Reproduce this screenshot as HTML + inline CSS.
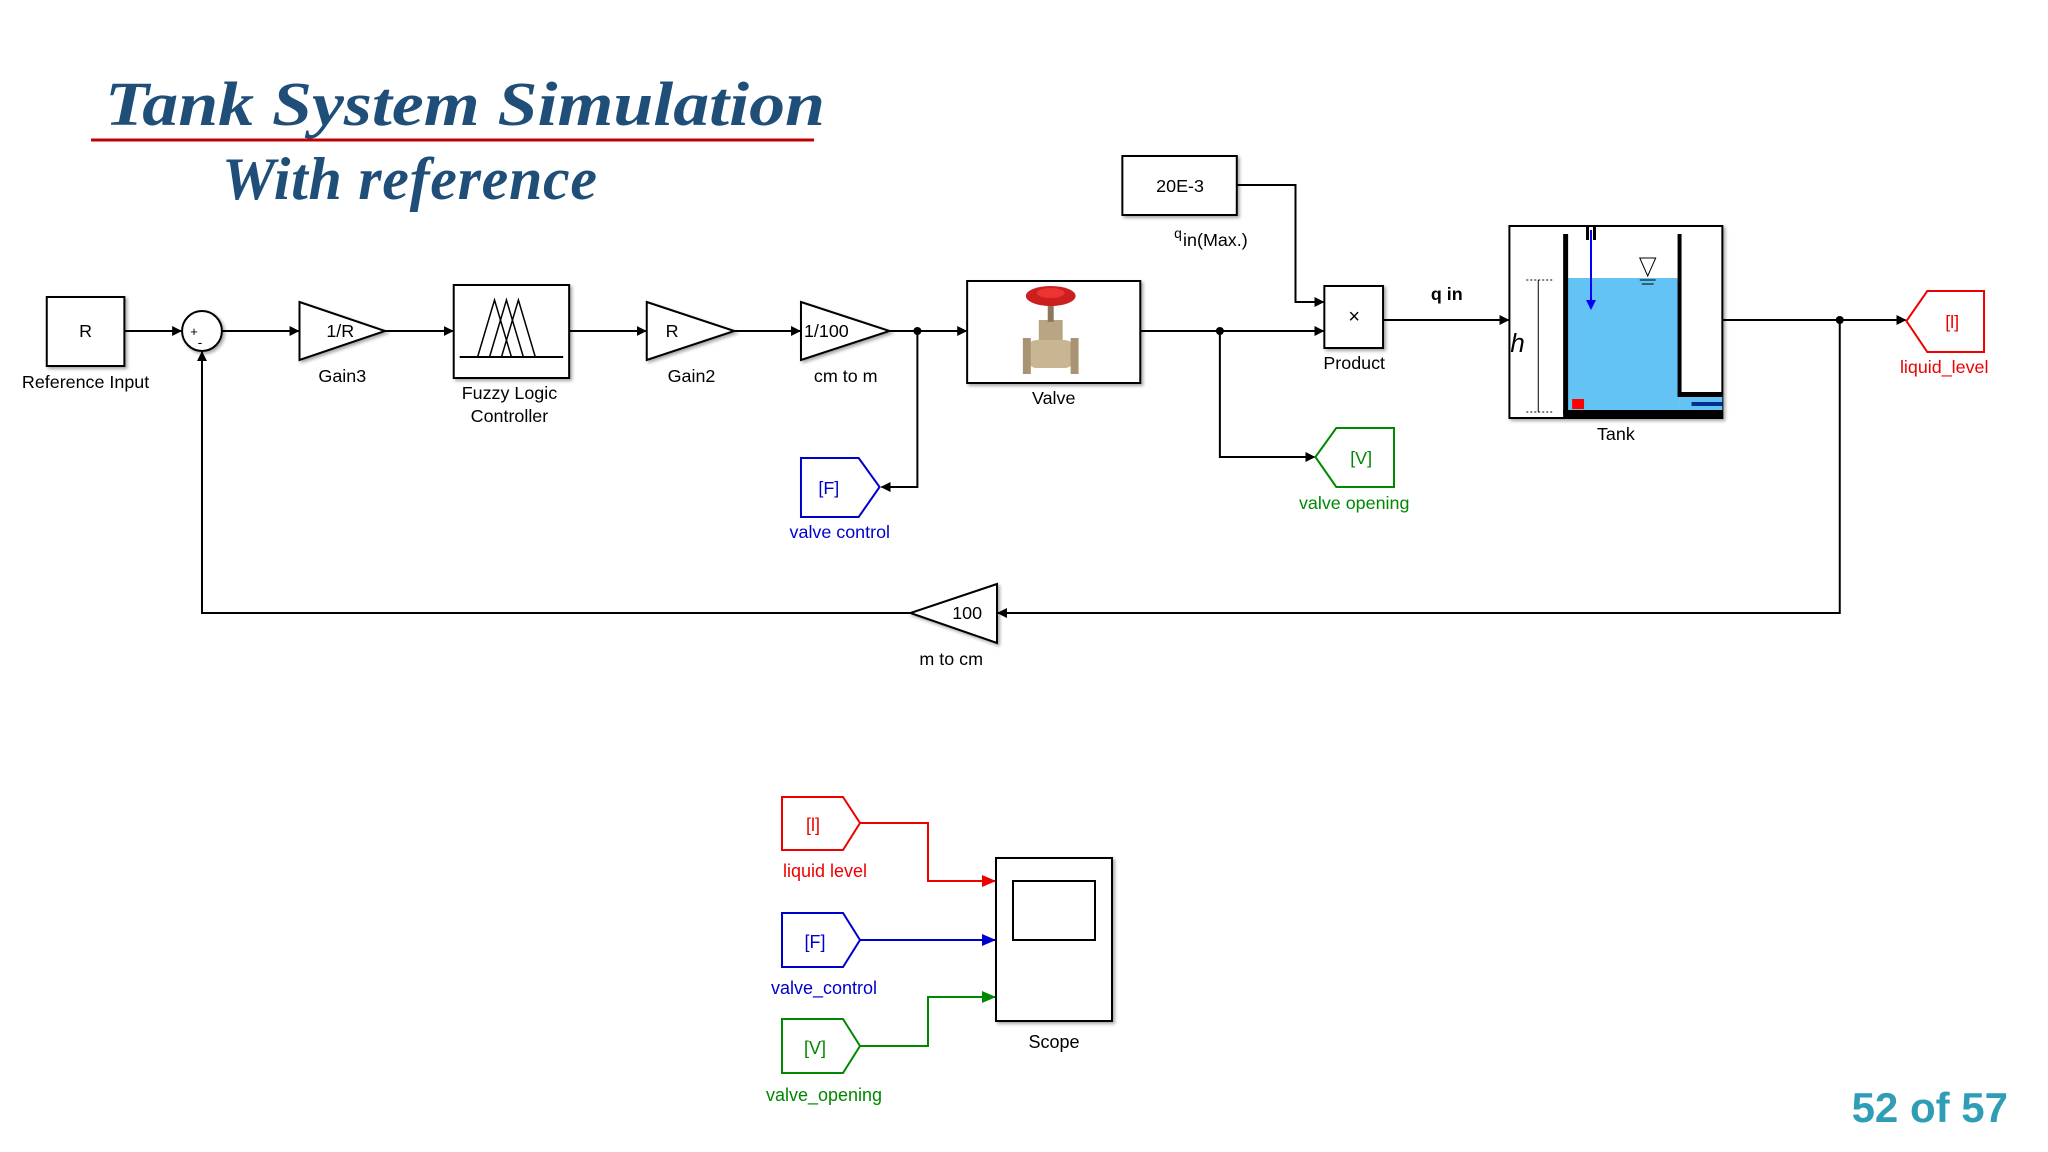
<!DOCTYPE html>
<html><head><meta charset="utf-8"><style>
html,body{margin:0;padding:0;background:#fff;width:2048px;height:1152px;overflow:hidden}
svg{display:block}
text{font-family:"Liberation Sans",Arial,sans-serif}
.t{font-family:"Liberation Serif",serif;font-weight:bold;font-style:italic;fill:#1f4e79}
</style></head><body>
<svg width="2048" height="1152" viewBox="0 0 2048 1152" xmlns="http://www.w3.org/2000/svg">
<defs>
<marker id="a" markerWidth="10" markerHeight="10" refX="9" refY="5" orient="auto" markerUnits="userSpaceOnUse"><path d="M0,0 L10,5 L0,10z" fill="#000"/></marker>
<marker id="ar" markerWidth="14" markerHeight="12" refX="13" refY="6" orient="auto" markerUnits="userSpaceOnUse"><path d="M0,0 L14,6 L0,12z" fill="#e00"/></marker>
<marker id="ab" markerWidth="14" markerHeight="12" refX="13" refY="6" orient="auto" markerUnits="userSpaceOnUse"><path d="M0,0 L14,6 L0,12z" fill="#00c"/></marker>
<marker id="ag" markerWidth="14" markerHeight="12" refX="13" refY="6" orient="auto" markerUnits="userSpaceOnUse"><path d="M0,0 L14,6 L0,12z" fill="#080"/></marker>
<filter id="sh"><feDropShadow dx="2" dy="2" stdDeviation="1.5" flood-opacity="0.35"/></filter>
</defs>

<!-- Title -->
<text class="t" x="105" y="125" font-size="62" textLength="720" lengthAdjust="spacingAndGlyphs">Tank System Simulation</text>
<line x1="91" y1="140" x2="814" y2="140" stroke="#c00000" stroke-width="3"/>
<text class="t" x="222" y="199" font-size="60" textLength="375">With reference</text>

<g transform="matrix(0.995,0,0,1,0,0)">
<g stroke="#000" stroke-width="2" fill="none">
<line x1="125" y1="331" x2="182" y2="331" marker-end="url(#a)"/>
<line x1="223" y1="331" x2="300" y2="331" marker-end="url(#a)"/>
<line x1="387" y1="331" x2="455" y2="331" marker-end="url(#a)"/>
<line x1="572" y1="331" x2="649" y2="331" marker-end="url(#a)"/>
<line x1="738" y1="331" x2="804" y2="331" marker-end="url(#a)"/>
<line x1="894" y1="331" x2="971" y2="331" marker-end="url(#a)"/>
<polyline points="922,331 922,487 886,487" marker-end="url(#a)"/>
<line x1="1146" y1="331" x2="1330" y2="331" marker-end="url(#a)"/>
<polyline points="1226,331 1226,457 1321,457" marker-end="url(#a)"/>
<polyline points="1243,185 1302,185 1302,302 1330,302" marker-end="url(#a)"/>
<line x1="1390" y1="320" x2="1516" y2="320" marker-end="url(#a)"/>
<line x1="1731" y1="320" x2="1915" y2="320" marker-end="url(#a)"/>
<polyline points="1849,320 1849,613 1003,613" marker-end="url(#a)"/>
<polyline points="915,613 203,613 203,352" marker-end="url(#a)"/>
</g>
<circle cx="922" cy="331" r="4"/><circle cx="1226" cy="331" r="4"/><circle cx="1849" cy="320" r="4"/>

<g filter="url(#sh)" stroke="#000" stroke-width="2" fill="#fff">
<rect x="47" y="297" width="78" height="69"/>
<circle cx="203" cy="331" r="20"/>
<polygon points="301,302 387,331 301,360"/>
<rect x="456" y="285" width="116" height="93"/>
<polygon points="650,302 738,331 650,360"/>
<polygon points="805,302 894,331 805,360"/>
<rect x="972" y="281" width="174" height="102"/>
<rect x="1128" y="156" width="115" height="59"/>
<rect x="1331" y="286" width="59" height="62"/>
<rect x="1517" y="226" width="214" height="192"/>
<polygon points="1002,584 915,613 1002,643"/>
</g>
<polygon points="805,458 863,458 884,487 863,517 805,517" fill="#fff" stroke="#00c" stroke-width="2"/>
<polygon points="1401,428 1343,428 1322,457 1343,487 1401,487" fill="#fff" stroke="#080" stroke-width="2"/>
<polygon points="1994,291 1937,291 1916,321 1937,352 1994,352" fill="#fff" stroke="#e00" stroke-width="2"/>

<g stroke="#000" stroke-width="1.5" fill="none">
<line x1="462" y1="357" x2="566" y2="357" stroke-width="2"/>
<polyline points="480,357 497,300 514,357"/><polyline points="492,357 509,300 526,357"/><polyline points="504,357 521,300 538,357"/>
</g>
<g>
<rect x="1044" y="320" width="24" height="40" fill="#b9a583"/>
<rect x="1032" y="340" width="48" height="28" rx="10" fill="#c8b592"/>
<rect x="1028" y="338" width="8" height="36" fill="#a89472"/><rect x="1076" y="338" width="8" height="36" fill="#a89472"/>
<rect x="1053" y="298" width="6" height="24" fill="#8a7a5a"/>
<ellipse cx="1056" cy="296" rx="25" ry="10" fill="#cc1f1f"/>
<ellipse cx="1056" cy="293" rx="14" ry="5" fill="#e33"/>
</g>
<g>
<rect x="1575" y="278" width="113" height="133" fill="#63c3f5"/>
<rect x="1688" y="394" width="43" height="17" fill="#63c3f5"/>
<rect x="1571" y="234" width="5" height="180" fill="#000"/>
<rect x="1571" y="410" width="160" height="8" fill="#000"/>
<rect x="1686" y="234" width="4" height="162" fill="#000"/>
<rect x="1686" y="392" width="45" height="5" fill="#000"/>
<rect x="1700" y="402" width="31" height="4" fill="#00308f"/>
<rect x="1594" y="227" width="3" height="13" fill="#000"/><rect x="1601" y="227" width="3" height="13" fill="#000"/>
<line x1="1599" y1="230" x2="1599" y2="305" stroke="#00f" stroke-width="2"/>
<path d="M1594,300 L1599,310 L1604,300z" fill="#00f"/>
<rect x="1580" y="399" width="12" height="10" fill="#f00"/>
<path d="M1648,258 L1664,258 L1656,276z" fill="none" stroke="#000"/>
<line x1="1648" y1="280" x2="1664" y2="280" stroke="#000"/><line x1="1650" y1="284" x2="1662" y2="284" stroke="#000"/>
<line x1="1546" y1="280" x2="1546" y2="412" stroke="#000"/>
<line x1="1534" y1="280" x2="1560" y2="280" stroke="#000" stroke-dasharray="2,2"/>
<line x1="1534" y1="412" x2="1560" y2="412" stroke="#000" stroke-dasharray="2,2"/>
<text x="1518" y="352" font-size="26" font-style="italic" font-family="Liberation Serif,serif">h</text>
</g>
<g font-size="18" text-anchor="middle" fill="#000">
<text x="86" y="337">R</text>
<text x="195" y="336" font-size="13">+</text><text x="201" y="347" font-size="14">-</text>
<text x="328" y="337" text-anchor="start">1/R</text>
<text x="669" y="337" text-anchor="start">R</text>
<text x="808" y="337" text-anchor="start">1/100</text>
<text x="1186" y="192">20E-3</text>
<text x="1361" y="323" font-size="20">×</text>
<text x="972" y="619">100</text>
<text x="86" y="388">Reference Input</text>
<text x="344" y="382">Gain3</text>
<text x="512" y="399">Fuzzy Logic</text>
<text x="512" y="422">Controller</text>
<text x="695" y="382">Gain2</text>
<text x="850" y="382">cm to m</text>
<text x="1059" y="404">Valve</text>
<text x="1361" y="369">Product</text>
<text x="1624" y="440">Tank</text>
<text x="956" y="665">m to cm</text>
<text x="1454" y="300" font-weight="bold">q in</text>
<text x="1180" y="238" text-anchor="start" font-size="14">q</text><text x="1189" y="246" text-anchor="start">in(Max.)</text>
<g fill="#00c"><text x="833" y="494">[F]</text><text x="844" y="538">valve control</text></g>
<g fill="#080"><text x="1368" y="464">[V]</text><text x="1361" y="509">valve opening</text></g>
<g fill="#e00"><text x="1962" y="328">[l]</text><text x="1954" y="373">liquid_level</text></g>
</g>
</g>

<!-- bottom -->
<rect x="996" y="858" width="116" height="163" fill="#fff" stroke="#000" stroke-width="2" filter="url(#sh)"/>
<rect x="1013" y="881" width="82" height="59" fill="#fff" stroke="#000" stroke-width="2"/>
<polygon points="782,797 843,797 860,823 843,850 782,850" fill="#fff" stroke="#e00" stroke-width="2"/>
<polygon points="782,913 843,913 860,940 843,967 782,967" fill="#fff" stroke="#00c" stroke-width="2"/>
<polygon points="782,1019 843,1019 860,1046 843,1073 782,1073" fill="#fff" stroke="#080" stroke-width="2"/>
<polyline points="860,823 928,823 928,881 995,881" fill="none" stroke="#e00" stroke-width="2" marker-end="url(#ar)"/>
<line x1="860" y1="940" x2="995" y2="940" stroke="#00c" stroke-width="2" marker-end="url(#ab)"/>
<polyline points="860,1046 928,1046 928,997 995,997" fill="none" stroke="#080" stroke-width="2" marker-end="url(#ag)"/>
<g font-size="18" text-anchor="middle">
<text x="1054" y="1048">Scope</text>
<g fill="#00c"><text x="815" y="948">[F]</text><text x="824" y="994">valve_control</text></g>
<g fill="#080"><text x="815" y="1054">[V]</text><text x="824" y="1101">valve_opening</text></g>
<g fill="#e00"><text x="813" y="831">[l]</text><text x="825" y="877">liquid level</text></g>
</g>
<text x="2008" y="1122" text-anchor="end" font-size="42" font-weight="bold" fill="#2e9db5">52 of 57</text>
</svg>
</body></html>
